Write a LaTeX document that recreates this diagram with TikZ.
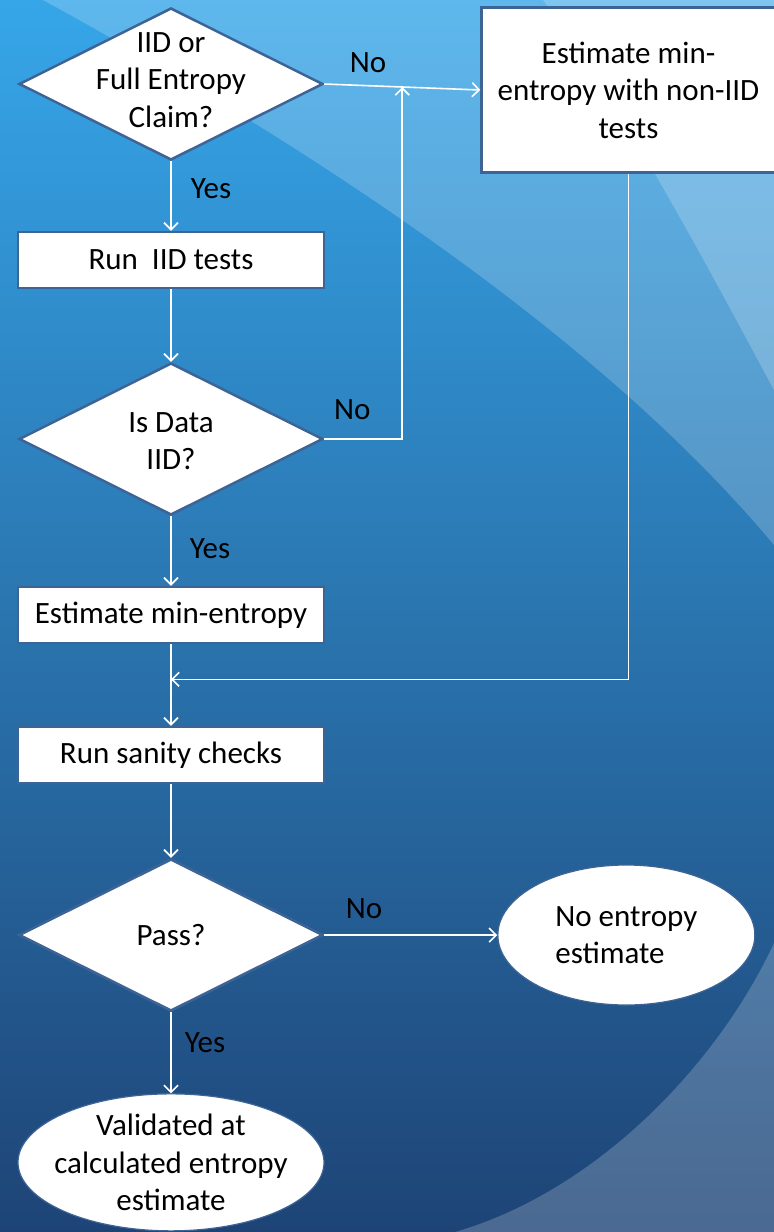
\documentclass[tikz,border=0pt]{standalone}
\usepackage{fontspec}
\setmainfont{Carlito}
\usetikzlibrary{positioning,arrows.meta,calc,shapes.geometric}
\definecolor{frame}{HTML}{3E6496}
\definecolor{skytop}{HTML}{36A6E9}
\definecolor{skymid}{HTML}{3088C6}
\definecolor{skybot}{HTML}{1E4476}

\begin{document}
\begin{tikzpicture}[x=1pt,y=-1pt,>={Straight Barb[length=7pt,width=14pt]},font=\fontsize{31}{37.5}\selectfont]
\tikzstyle{decision}=[diamond,draw=frame,line width=2.5pt,fill=white,minimum width=304pt,minimum height=152pt,inner sep=0pt]
\tikzstyle{stepbox}=[rectangle,draw=frame,line width=2.5pt,fill=white,minimum width=306pt,minimum height=56pt,align=center]
\tikzstyle{terminal}=[ellipse,draw=frame,line width=1.2pt,fill=white,inner sep=0pt]
\tikzstyle{flow}=[->,draw=white,line width=1.6pt]
\tikzstyle{answer}=[inner sep=2pt,text=black]
\tikzstyle{swoosh}=[fill=white,fill opacity=0.2]
% background
\useasboundingbox (0,0) rectangle (774,1232);
\shade[top color=skytop,middle color=skymid,bottom color=skybot] (0,0) rectangle (774,1232);
\fill[swoosh] (43,0) .. controls (293,137) and (594,329) .. (774,545) -- (774,0) -- cycle;
\fill[swoosh] (543,0) .. controls (620,100) and (720,290) .. (774,390) -- (774,0) -- cycle;
\fill[swoosh] (774,943) .. controls (720,1060) and (600,1190) .. (455,1232) -- (774,1232) -- cycle;
% main column
\node[decision,label={[align=center,yshift=4pt]center:IID or\\Full Entropy\\Claim?}] (claim) at (171,84) {};
\node[stepbox,below=69.5pt of claim] (iidtests) {Run\ \ IID tests};
\node[decision,below=72.5pt of iidtests,label={[align=center,yshift=-2pt]center:Is Data\\IID?}] (isiid) {};
\node[stepbox,below=69.5pt of isiid] (minent) {Estimate min-entropy};
\node[stepbox,below=81.5pt of minent] (sanity) {Run sanity checks};
\node[decision,below=73.5pt of sanity,label={center:Pass?}] (pass) {};
\node[terminal,minimum width=306pt,minimum height=137pt,below=81pt of pass,label={[align=center]center:Validated at\\calculated entropy\\estimate}] (valid) {};
% right column
\node[terminal,align=left,minimum width=257pt,minimum height=140pt,right=173pt of pass] (noest) {No entropy\\estimate};
\node[stepbox,minimum width=294pt,minimum height=165pt,right=156pt of claim,yshift=-6pt] (noniid) {Estimate min-\\entropy with non-IID\\tests};
\coordinate (merge) at ($(claim.east)!0.5!(noniid.west)$);
\coordinate (rejoin) at ($(minent.south)!0.43!(sanity.north)$);
% connectors
\draw[flow] (claim) -- node[answer,pos=0.39,right=17pt]{Yes} (iidtests);
\draw[flow] (claim.east) -- node[answer,pos=0.28,above=10pt]{No} (noniid.west);
\draw[flow] (iidtests) -- (isiid);
\draw[flow] (isiid.east) -| node[answer,pos=0.18,above=16pt]{No} (merge);
\draw[flow] (isiid) -- node[answer,pos=0.46,right=16pt]{Yes} (minent);
\draw[flow] (minent) -- (sanity);
\draw[flow] (noniid.south) |- (rejoin);
\draw[flow] (sanity) -- (pass);
\draw[flow] (pass.east) -- node[answer,pos=0.23,above=14pt]{No} (noest.west);
\draw[flow] (pass) -- node[answer,pos=0.37,right=11pt]{Yes} (valid);
\end{tikzpicture}
\end{document}
